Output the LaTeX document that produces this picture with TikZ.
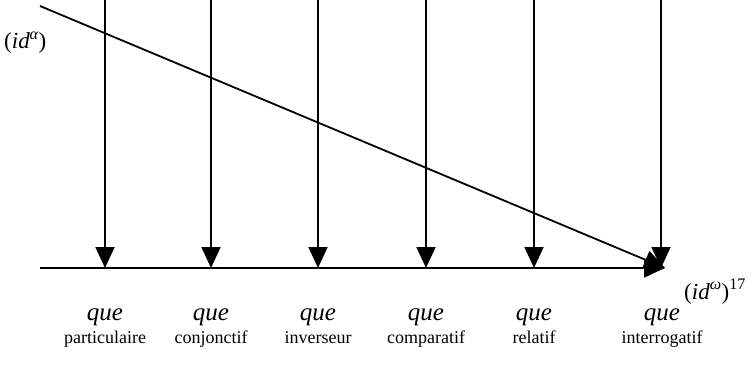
\documentclass[tikz,border=0pt]{standalone}
\usepackage{fontspec}
\setmainfont{Liberation Serif}
\usetikzlibrary{arrows.meta}
\begin{document}
\begin{tikzpicture}[x=1pt,y=-1pt,
  arr/.style={line width=1.8pt,-{Triangle[length=21pt,width=19pt]}},
  qlab/.style={font=\fontsize{25}{27}\selectfont\itshape,anchor=base,inner sep=0pt},
  dlab/.style={font=\fontsize{18}{20}\selectfont,anchor=base,inner sep=0pt},
  idlab/.style={font=\fontsize{23}{25}\selectfont,anchor=base west,inner sep=0pt}]
\useasboundingbox (0,0) rectangle (754,379);
\coordinate (hs) at (40,268);
\coordinate (he) at (665,268);
\coordinate (ds) at (40,6);
\draw[arr] (hs) -- (he);
\draw[arr] (ds) -- (he);
\foreach \x/\n in {105/a,211/b,318/c,426/d,534/e,661/f}{
  \coordinate (t\n) at (\x,-2);
  \coordinate (b\n) at (\x,268);
  \draw[arr] (t\n) -- (b\n);
}
\node[idlab] (ida) at (4,49) {(\textit{id\textsuperscript{α}})};
\node[idlab] (ido) at (684,299) {(\textit{id\textsuperscript{ω}})\textsuperscript{17}};
\foreach \x/\n/\t in {105/a/particulaire,211/b/conjonctif,318/c/inverseur,426/d/comparatif,534/e/relatif,662/f/interrogatif}{
  \node[qlab] (q\n) at (\x,320) {que};
  \node[dlab] (l\n) at (\x,343) {\t};
}
\end{tikzpicture}
\end{document}
